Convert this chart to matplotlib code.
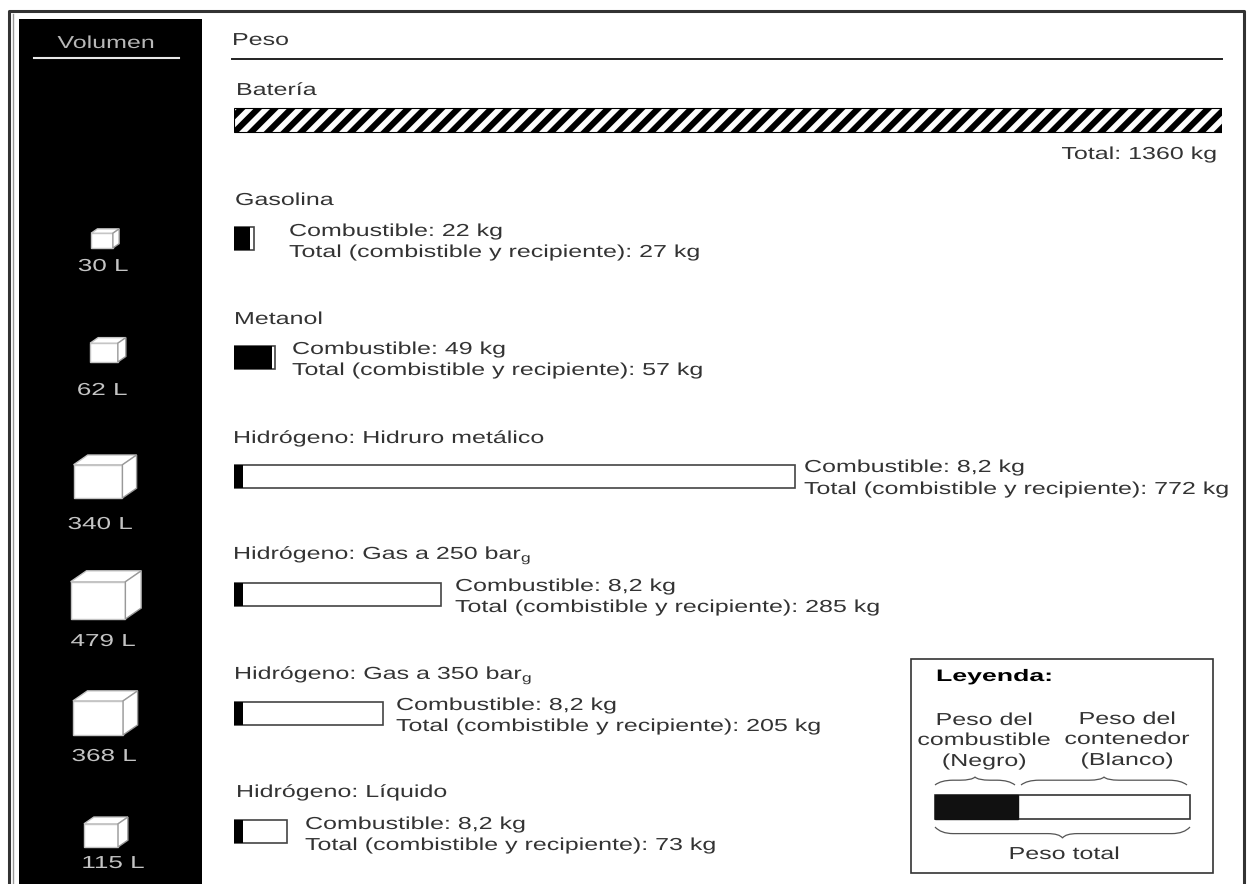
import numpy as np
import matplotlib
matplotlib.use("Agg")
import matplotlib.pyplot as plt
from matplotlib.patches import Rectangle, Polygon, PathPatch
from matplotlib.patheffects import AbstractPathEffect
from matplotlib.path import Path
from matplotlib.transforms import Affine2D

plt.rcParams["font.family"] = ["Liberation Sans", "DejaVu Sans"]
plt.rcParams["hatch.linewidth"] = 4.4
plt.rcParams["hatch.color"] = "black"

# ── DATA ──────────────────────────────────────────────────────────────────────
volumes_l = [30, 62, 340, 479, 368, 115]

battery_kg = 1360
fuels = ["Gasolina", "Metanol", "Hidrógeno: Hidruro metálico",
         "Hidrógeno: Gas a 250 bar$_{\\mathregular{g}}$",
         "Hidrógeno: Gas a 350 bar$_{\\mathregular{g}}$", "Hidrógeno: Líquido"]
fuel_labels = ["22", "49", "8,2", "8,2", "8,2", "8,2"]
total_kg = [27, 57, 772, 285, 205, 73]
# black part as drawn in the picture (hydrogen is drawn wider than 8.2 kg)
black_kg = [22, 52, 13, 13, 13, 13]

TEXT = "#333333"
FS = 12.5
STRETCH = 1.44


class StretchX(AbstractPathEffect):
    # the source lettering is much wider than any installed font
    def __init__(self, factor, anchor):
        super().__init__()
        self.factor = factor
        self.anchor = anchor

    def draw_path(self, renderer, gc, tpath, affine, rgbFace=None):
        x0, x1 = tpath.vertices[:, 0].min(), tpath.vertices[:, 0].max()
        pivot = {"left": x0, "center": (x0 + x1) / 2, "right": x1}[self.anchor]
        stretch = Affine2D().translate(-pivot, 0).scale(self.factor, 1).translate(pivot, 0)
        renderer.draw_path(gc, tpath, stretch + affine, rgbFace)


def put(x, y, s, color=TEXT, ha="left", size=FS, factor=STRETCH, **kw):
    t = ax.text(x, y + 1.5, s, color=color, fontsize=size, ha=ha, va="center", zorder=5, **kw)
    t.set_path_effects([StretchX(factor, ha)])
    return t


fig = plt.figure(figsize=(12.51, 8.84), dpi=100)
ax = fig.add_axes([0, 0, 1, 1])
ax.set_xlim(0, 1251)
ax.set_ylim(884, 0)
ax.axis("off")

# bars get their own x axis in kg, y stays in pixels
ax_kg = fig.add_axes([234 / 1251, 0, (1222 - 234) / 1251, 1])
ax_kg.set_xlim(0, battery_kg)
ax_kg.set_ylim(884, 0)
ax_kg.axis("off")
ax_kg.patch.set_alpha(0)

# ── FRAME AND VOLUME COLUMN ───────────────────────────────────────────────────
ax.plot([8.5, 8.5, 1243.5, 1243.5], [884, 10.5, 10.5, 884], color="#333333", lw=2.2)
ax.plot([12.5, 12.5], [14, 884], color="#999999", lw=1)
ax.add_patch(Rectangle((19, 19), 183, 865, color="black", lw=0))
put(106, 42, "Volumen", color="#b8b8b8", ha="center")
ax.plot([34, 179], [58, 58], color="#e8e8e8", lw=1.5)


def cube(cx, bottom, litres):
    # edge grows with the cube root of the volume
    w = 7.0 * np.cbrt(litres)
    h, dx, dy = 0.68 * w, 0.29 * w, 0.2 * w
    x0 = cx - w / 2
    top = bottom - h
    ax.add_patch(Rectangle((x0, top), w, h, fc="white", ec="#c4c4c4", lw=1))
    ax.add_patch(Polygon([(x0, top), (x0 + dx, top - dy), (x0 + w + dx, top - dy), (x0 + w, top)],
                         fc="white", ec="#c4c4c4", lw=1))
    ax.add_patch(Polygon([(x0 + w, top), (x0 + w + dx, top - dy), (x0 + w + dx, bottom - dy), (x0 + w, bottom)],
                         fc="white", ec="#999999", lw=1))


cube_x = [102, 104, 98, 98, 98, 101]
cube_bottom = [248, 362, 498, 619, 735, 847]
vol_label_x = [103, 102, 100, 103, 104, 113]
vol_label_y = [265, 389, 523, 640, 755, 862]
for v, cx, b, lx, ly in zip(volumes_l, cube_x, cube_bottom, vol_label_x, vol_label_y):
    cube(cx, b, v)
    put(lx, ly, f"{v} L", color="#c4c4c4", ha="center", factor=1.5)

# ── WEIGHT COLUMN ─────────────────────────────────────────────────────────────
put(232, 39, "Peso")
ax.plot([232, 1222], [58.5, 58.5], color="#222222", lw=1.4)

put(236, 89, "Batería")
ax_kg.barh(120, battery_kg, height=24, facecolor="white", edgecolor="black", hatch="//", lw=0.8)
put(1217, 153, f"Total: {battery_kg} kg", ha="right")

title_x = [235, 234, 233, 233, 234, 236]
title_y = [199, 318, 437, 554, 674, 791]
bar_y = [238, 357, 476.5, 594.5, 713, 831.5]
label_x = [289, 292, 804, 455, 396, 305]
line1_y = [230, 348, 466, 585, 704, 823]
line2_y = [251, 369, 488, 606, 725, 844]

for i, name in enumerate(fuels):
    put(title_x[i], title_y[i], name)
    ax_kg.barh(bar_y[i], total_kg[i], height=23, facecolor="white", edgecolor="#444444", lw=1.2)
    ax_kg.barh(bar_y[i], black_kg[i], height=23, color="black", lw=0)
    put(label_x[i], line1_y[i], f"Combustible: {fuel_labels[i]} kg")
    put(label_x[i], line2_y[i], f"Total (combistible y recipiente): {total_kg[i]} kg")

# ── LEGEND BOX ────────────────────────────────────────────────────────────────
ax.add_patch(Rectangle((911, 659), 302, 214, fc="white", ec="#333333", lw=1.2, zorder=1))
put(936, 675, "Leyenda:", color="black", size=12, factor=1.6, fontweight="bold")
put(984, 719, "Peso del", ha="center")
put(984, 739, "combustible", ha="center")
put(984, 760, "(Negro)", ha="center")
put(1127, 718, "Peso del", ha="center")
put(1127, 738, "contenedor", ha="center")
put(1127, 759, "(Blanco)", ha="center")
put(1064, 853, "Peso total", ha="center")

ax.add_patch(Rectangle((935, 795), 255, 24, fc="white", ec="#333333", lw=1.2, zorder=2))
ax.add_patch(Rectangle((935, 795), 83, 24, fc="#111111", ec="#111111", lw=1, zorder=3))


def brace(x0, x1, y_ends, y_tip):
    # curly brace from curves meeting at the middle
    xm = (x0 + x1) / 2
    y_flat = y_ends + (y_tip - y_ends) * 0.6
    verts = [(x0, y_ends), (x0 + 6, y_flat), (x0 + 18, y_flat),
             (xm - 15, y_flat), (xm - 3, y_flat), (xm, y_tip),
             (xm + 3, y_flat), (xm + 15, y_flat), (x1 - 18, y_flat),
             (x1 - 6, y_flat), (x1, y_ends)]
    codes = [Path.MOVETO, Path.CURVE3, Path.CURVE3, Path.LINETO, Path.CURVE3, Path.CURVE3,
             Path.CURVE3, Path.CURVE3, Path.LINETO, Path.CURVE3, Path.CURVE3]
    ax.add_patch(PathPatch(Path(verts, codes), fc="none", ec="#555555", lw=0.9, zorder=4))


brace(935, 1015, 785, 777)
brace(1021, 1187, 785, 777)
brace(935, 1190, 827, 838)

fig.savefig("out.png", dpi=100)
